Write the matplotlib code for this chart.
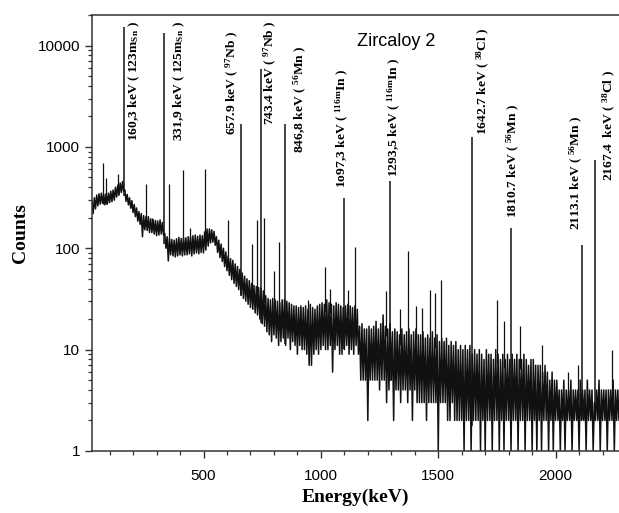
import numpy as np
import matplotlib
matplotlib.use('Agg')
import matplotlib.pyplot as plt
from matplotlib.ticker import MultipleLocator, LogLocator, NullFormatter

plt.rcParams['mathtext.fontset'] = 'custom'
plt.rcParams['mathtext.rm'] = 'Liberation Serif'
plt.rcParams['mathtext.bf'] = 'Liberation Serif:bold'
plt.rcParams['mathtext.default'] = 'bf'

# continuum, read per 10 keV bin: max (hi) and min (lo) counts
bin_e = np.arange(25, 2280, 10)
cont_hi = [290, 315, 335, 345, 350, 340, 345, 350, 365, 375,
           400, 420, 440, 455, 375, 340, 315, 295, 270, 250,
           230, 220, 210, 205, 205, 195, 192, 188, 186, 190,
           180, 140, 130, 125, 122, 120, 124, 128, 125, 127,
           127, 130, 130, 133, 135, 131, 135, 133, 145, 155,
           155, 152, 147, 130, 120, 110, 100, 92, 84, 79,
           76, 70, 66, 62, 57, 53, 50, 48, 45, 43,
           42, 41, 40, 38, 34, 32, 31, 32, 31, 30,
           29, 31, 31, 30, 29, 28, 27, 27, 26, 27,
           26, 27, 25, 28, 26, 25, 27, 28, 29, 28,
           31, 29, 28, 27, 29, 28, 27, 26, 27, 28,
           27, 26, 27, 25, 17, 18, 16, 16, 17, 16,
           17, 19, 16, 18, 22, 17, 16, 18, 15, 16,
           15, 14, 16, 14, 15, 16, 14, 15, 16, 14,
           14, 15, 13, 14, 13, 15, 13, 14, 12, 13,
           12, 13, 11, 12, 11, 12, 10, 11, 10, 11,
           10, 11, 9, 10, 9, 10, 9, 8, 10, 9,
           9, 8, 10, 9, 8, 9, 8, 9, 8, 9,
           8, 9, 8, 8, 9, 8, 7, 8, 8, 7,
           7, 7, 6, 7, 6, 5, 6, 5, 5, 4,
           4, 5, 4, 4, 5, 4, 4, 4, 5, 4,
           4, 5, 4, 4, 3, 4, 5, 4, 4, 4,
           4, 4, 5, 4, 4, 4]
cont_lo = [220, 245, 262, 272, 278, 268, 272, 282, 288, 298,
           320, 335, 355, 365, 290, 268, 248, 225, 205, 185,
           172, 130, 152, 150, 143, 143, 138, 133, 135, 138,
           135, 100, 75, 86, 84, 82, 84, 86, 84, 86,
           86, 88, 84, 88, 90, 88, 91, 90, 96, 105,
           113, 115, 107, 91, 81, 74, 66, 60, 54, 49,
           45, 42, 39, 35, 32, 30, 28, 26, 25, 23,
           22, 20, 18, 17, 15, 14, 12, 14, 13, 11,
           12, 13, 11, 13, 10, 12, 11, 9, 11, 10,
           10, 9, 7, 7, 9, 10, 9, 10, 11, 10,
           10, 11, 6, 10, 11, 9, 9, 10, 11, 9,
           10, 9, 11, 9, 5, 5, 5, 2, 5, 5,
           5, 5, 4, 5, 5, 3, 4, 5, 2, 4,
           4, 3, 4, 4, 3, 4, 2, 4, 3, 3,
           3, 3, 2, 3, 3, 3, 3, 1, 3, 3,
           3, 2, 2, 3, 2, 2, 2, 2, 1, 2,
           2, 1, 2, 2, 2, 1, 2, 1, 2, 2,
           1, 2, 2, 1, 2, 1, 2, 2, 1, 2,
           2, 1, 2, 2, 1, 2, 2, 1, 2, 1,
           2, 1, 2, 2, 1, 2, 1, 2, 2, 1,
           2, 1, 2, 2, 1, 2, 2, 1, 2, 2,
           1, 2, 2, 1, 2, 2, 1, 2, 2, 1,
           2, 2, 1, 2, 2, 1]

# small unlabelled peaks
small_e = [71, 84, 136, 256, 280, 355, 414, 444, 508, 603, 706, 727, 757, 800,
           821, 947, 1019, 1040, 1117, 1147, 1276, 1335, 1370, 1404, 1430,
           1464, 1486, 1512, 1752, 1782, 1850, 1940, 2052, 2094, 2240]
small_h = [690, 490, 545, 435, 200, 435, 585, 160, 600, 188, 109, 188, 197, 60,
           114, 31, 66, 40, 39, 102, 38, 25, 93, 27, 26,
           39, 36, 49, 31, 19, 17, 11, 6, 7, 10]

# labelled peaks
peak_e = [160.3, 331.9, 657.9, 743.4, 846.8, 1097.3, 1293.5, 1642.7, 1810.7, 2113.1, 2167.4]
peak_h = [15100, 13400, 1700, 5800, 1700, 316, 465, 1260, 160, 107, 750]
peak_labels = [r'160,3 keV ( 123m$_{Sn}$ )',
               r'331,9 keV ( 125m$_{Sn}$ )',
               r'657.9 keV ( $^{97}$Nb )',
               r'743.4 keV ( $^{97}$Nb )',
               r'846,8 keV ( $^{56}$Mn )',
               r'1o97,3 keV ( $^{116m}$In )',
               r'1293,5 keV ( $^{116m}$In )',
               r'1642.7 keV ( $^{38}$Cl )',
               r'1810.7 keV ( $^{56}$Mn )',
               r'2113.1 keV ( $^{56}$Mn )',
               r'2167.4  keV ( $^{38}$Cl )']
# label anchors (centre energy, top count)
label_x = [207, 397, 624, 786, 915, 1094, 1312, 1692, 1820, 2090, 2231]
label_top = [17600, 17600, 14000, 17600, 10000, 5900, 7600, 15000, 2680, 2040, 5670]

x = np.column_stack([bin_e, bin_e + 5]).ravel()
y = np.column_stack([cont_hi, cont_lo]).ravel()

fig = plt.figure(figsize=(6.19, 5.13), dpi=100)
ax = fig.add_axes([92 / 619, 1 - 451 / 513, 1 - 92 / 619, (451 - 15) / 513])

ax.plot(x, y, color='#111111', lw=1.1)
base_s = np.interp(small_e, bin_e, cont_hi)
ax.vlines(small_e, base_s * 0.8, small_h, color='#111111', lw=0.9)
base_p = np.interp(peak_e, bin_e, cont_lo)
ax.vlines(peak_e, base_p, peak_h, color='#111111', lw=1.1)

for lx, ly, txt in zip(label_x, label_top, peak_labels):
    ax.text(lx, ly, txt, rotation=90, ha='center', va='top',
            family='Liberation Serif', fontweight='bold', fontsize=9.7)

ax.text(0.577, 0.94, 'Zircaloy 2', transform=ax.transAxes, ha='center', va='center',
        family='Liberation Sans', fontsize=13)

ax.set_yscale('log')
ax.set_ylim(1, 20000)
ax.set_xlim(25, 2270)
ax.set_yticks([1, 10, 100, 1000, 10000])
ax.set_yticklabels(['1', '10', '100', '1000', '10000'])
ax.yaxis.set_minor_locator(LogLocator(base=10, subs=np.arange(2, 10)))
ax.yaxis.set_minor_formatter(NullFormatter())
ax.set_xticks([500, 1000, 1500, 2000])
ax.xaxis.set_minor_locator(MultipleLocator(100))

for lab in ax.get_xticklabels() + ax.get_yticklabels():
    lab.set_family('Liberation Sans')
    lab.set_fontsize(11)
ax.tick_params(which='major', direction='out', length=5, width=1.0, color='#333333')
ax.tick_params(which='minor', direction='out', length=3, width=0.9, color='#333333')
ax.tick_params(axis='x', pad=8)
ax.spines['right'].set_visible(False)
for s in ['left', 'bottom', 'top']:
    ax.spines[s].set_linewidth(1.1)
    ax.spines[s].set_color('#333333')

ax.set_xlabel('Energy(keV)', family='Liberation Serif', fontweight='bold', fontsize=14, labelpad=4)
ax.set_ylabel('Counts', family='Liberation Serif', fontweight='bold', fontsize=14, labelpad=6)

fig.savefig('out.png', dpi=100)
